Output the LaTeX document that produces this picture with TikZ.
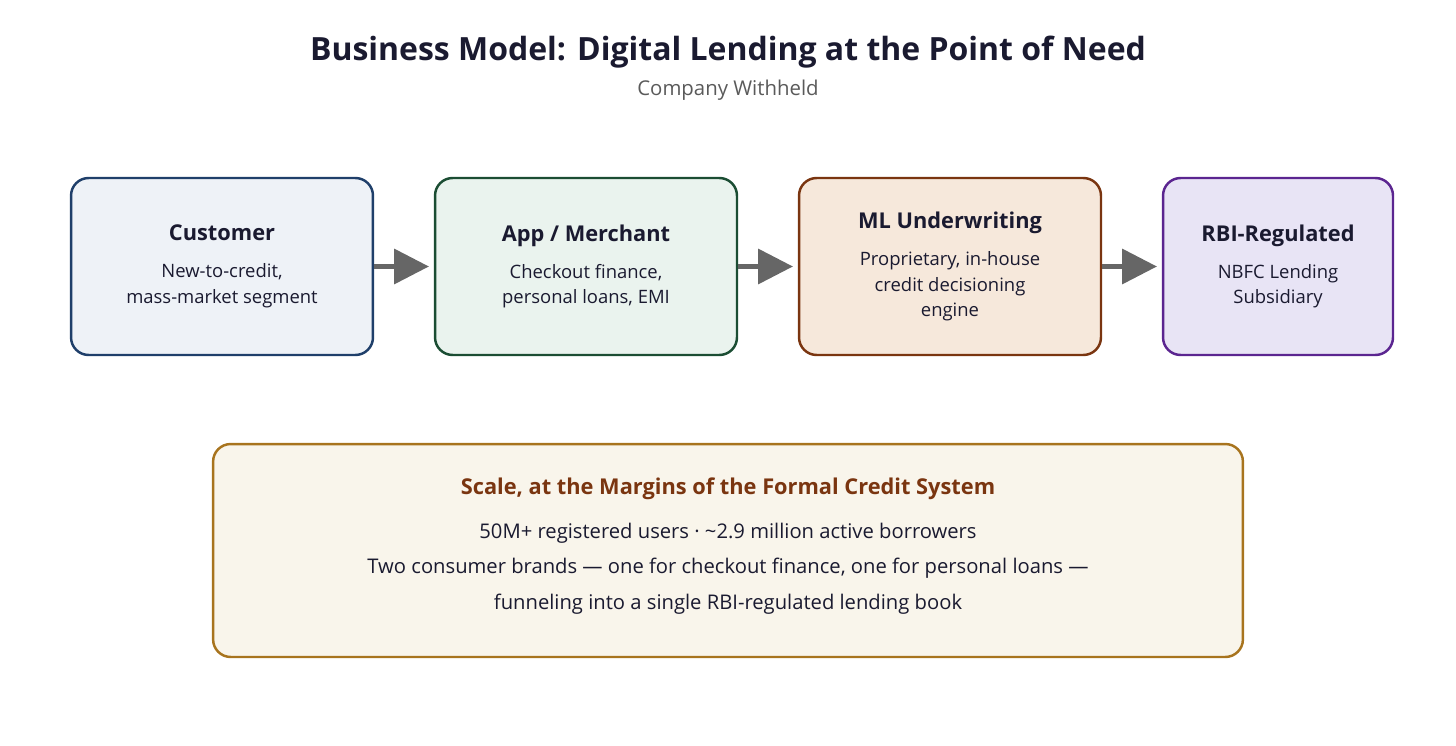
\documentclass[tikz,border=0pt]{standalone}
\usepackage{fontspec}
\setmainfont{Open Sans}
\usetikzlibrary{arrows.meta,positioning}

\definecolor{ink}{HTML}{1A1A30}
\definecolor{greytxt}{HTML}{5A5A5A}
\definecolor{custD}{HTML}{1F3F6A}
\definecolor{custF}{HTML}{EEF2F7}
\definecolor{appD}{HTML}{1B4D33}
\definecolor{appF}{HTML}{EAF3EE}
\definecolor{mlD}{HTML}{7A3510}
\definecolor{mlF}{HTML}{F6E8DB}
\definecolor{rbiD}{HTML}{5B2590}
\definecolor{rbiF}{HTML}{E8E4F5}
\definecolor{scaleD}{HTML}{A8741E}
\definecolor{scaleF}{HTML}{F9F5EB}
\definecolor{scaleT}{HTML}{7A3510}
\definecolor{arrowgrey}{HTML}{666666}

\newcommand{\stagehead}[1]{{\fontsize{12.4}{14}\selectfont\bfseries #1}}

\tikzset{stage/.style={draw,rounded corners=10pt,line width=1.4pt,
                       align=center,inner sep=0pt,minimum height=3.54cm,
                       text=ink,font=\fontsize{10.5}{14.7}\selectfont}}
\tikzset{flow/.style={draw=arrowgrey,line width=2.3pt,shorten >=2.8pt,
                      -{Triangle[length=19.8pt,width=19.8pt]}}}
\tikzset{maintitle/.style={anchor=base,text=ink,
                           font=\fontsize{18.2}{20}\selectfont\bfseries}}
\tikzset{subtitle/.style={anchor=base,text=greytxt,
                          font=\fontsize{11.6}{14}\selectfont}}
\tikzset{scalebox/.style={draw=scaleD,fill=scaleF,rounded corners=10pt,
                          line width=1.4pt,minimum width=20.6cm,
                          minimum height=4.26cm}}
\tikzset{scaletext/.style={align=center,text=ink,
                           font=\fontsize{11.5}{20.4}\selectfont}}

\begin{document}
\begin{tikzpicture}[x=0.02cm,y=-0.02cm]
    \useasboundingbox (0,0) rectangle (1456,746);
    \node[maintitle] (title) at (728,61)
        {Business Model: Digital Lending at the Point of Need};
    \node[subtitle] (sub) at (728,96) {Company Withheld};
    % Stages
    \foreach \n/\x/\w/\col/\head/\body in {%
        cust/222/6.04/cust/Customer/{New-to-credit,\\mass-market segment},
        app/586/6.04/app/{App / Merchant}/{Checkout finance,\\personal loans, EMI},
        ml/950/6.04/ml/{ML Underwriting}/{Proprietary, in-house\\credit decisioning\\engine},
        rbi/1278/4.6/rbi/{RBI-Regulated}/{NBFC Lending\\Subsidiary}}{%
          \node[stage,draw=\col D,fill=\col F,minimum width=\w cm] (\n) at (\x,266.5)
              {\stagehead{\head}\\[6.3pt]\body};
        }
    \foreach \a/\b in {cust/app,app/ml,ml/rbi}{%
          \draw[flow] (\a) -- (\b);
        }
    % Scale
    \node[scalebox] (scale) at (728,550.5) {};
    \node[scaletext] (scaletxt) at (728,546)
        {{\color{scaleT}\fontsize{12.4}{14}\selectfont\bfseries
          Scale, at the Margins of the Formal Credit System}\\[4.6pt]
         50M+ registered users · \textasciitilde2.9 million active borrowers\\
         Two consumer brands — one for checkout finance, one for personal loans —\\
         funneling into a single RBI-regulated lending book};
\end{tikzpicture}
\end{document}
